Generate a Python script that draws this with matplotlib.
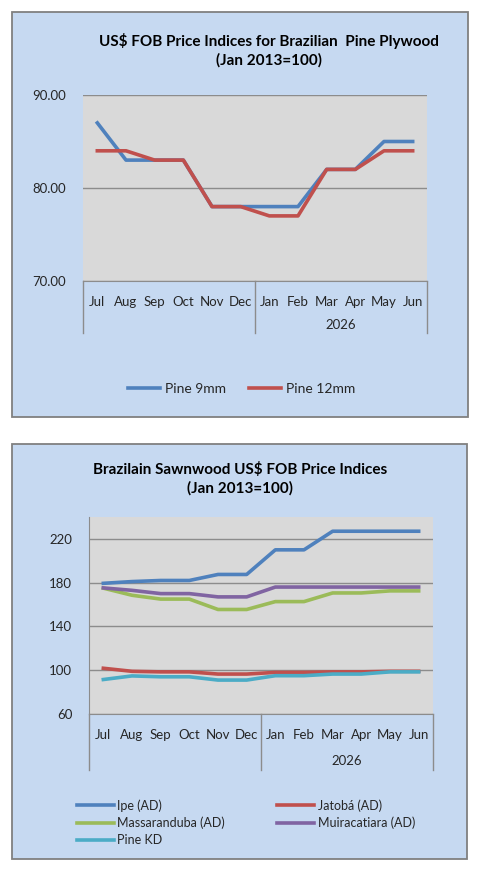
import matplotlib
matplotlib.use("Agg")
import matplotlib.pyplot as plt
from matplotlib.patches import Rectangle
import matplotlib.transforms as mtransforms

plt.rcParams['font.family'] = ['Lato', 'DejaVu Sans']

# ----------------------------------------------------------------------
# data
months = ["Jul", "Aug", "Sep", "Oct", "Nov", "Dec",
          "Jan", "Feb", "Mar", "Apr", "May", "Jun"]
year_label = "2026"

pine_9mm = [87, 83, 83, 83, 78, 78, 78, 78, 82, 82, 85, 85]
pine_12mm = [84, 84, 83, 83, 78, 78, 77, 77, 82, 82, 84, 84]

ipe = [179.4, 181, 182, 182, 187.5, 187.5, 210, 210, 227, 227, 227, 227]
jatoba = [101.8, 99, 98.5, 98.5, 96.5, 96.5, 98, 98, 98.5, 98.5, 99, 99]
massaranduba = [175, 168.5, 165, 165, 155.5, 155.5, 162.7, 162.7, 170.6, 170.6, 172.5, 172.5]
muiracatiara = [175.2, 173, 170, 170, 167, 167, 176, 176, 176, 176, 176, 176]
pine_kd = [91.5, 94.8, 94, 94, 91, 91, 95, 95, 96.5, 96.5, 98.5, 98.5]

top_yticks = [70, 80, 90]
bot_yticks = [60, 100, 140, 180, 220]

# ----------------------------------------------------------------------
W, H = 481, 872
BLUE = "#4F81BD"
RED = "#C0504D"
GREEN = "#9BBB59"
PURPLE = "#8064A2"
CYAN = "#4BACC6"
PANEL = "#C6D9F1"
PLOTBG = "#D9D9D9"
GRID = "#8C8C8C"
TXT = "#262626"
TICKFS = 9.5
LW = 2.6

fig = plt.figure(figsize=(W / 100, H / 100), dpi=100)


def box(x0, y0, x1, y1):
    return [x0 / W, 1 - y1 / H, (x1 - x0) / W, (y1 - y0) / H]


def fpt(x, y):
    # pixel position -> figure fraction
    return (x / W, 1 - y / H)


def panel(x0, y0, x1, y1):
    b = box(x0, y0, x1, y1)
    fig.patches.append(Rectangle((b[0], b[1]), b[2], b[3], transform=fig.transFigure,
                                 facecolor=PANEL, edgecolor="#808080", linewidth=1.3,
                                 zorder=-5))


def category_axis(ax, depth, year_pos):
    trans = mtransforms.blended_transform_factory(ax.transData, ax.transAxes)
    for xs in (-0.5, 5.5, 11.5):
        ax.plot([xs, xs], [0, -depth], color=GRID, lw=1, transform=trans, clip_on=False)
    ax.text(8.5, -year_pos, year_label, transform=trans, ha="center", va="center",
            fontsize=TICKFS, color=TXT)
    ax.set_xticks(range(len(months)))
    ax.set_xticklabels(months, fontsize=TICKFS, color=TXT)
    ax.set_xlim(-0.5, 11.5)


panel(12, 12, 468, 417)
panel(12, 444, 467, 859)

# ---------------- top chart
ax1 = fig.add_axes(box(83, 95, 427, 281))
ax1.set_facecolor(PLOTBG)
ax1.plot(range(12), pine_9mm, color=BLUE, lw=LW, label="Pine 9mm", solid_joinstyle="round")
ax1.plot(range(12), pine_12mm, color=RED, lw=LW, label="Pine 12mm", solid_joinstyle="round")
ax1.set_ylim(70, 90)
ax1.set_yticks(top_yticks)
ax1.set_yticklabels([f"{v:.2f}" for v in top_yticks], fontsize=TICKFS, color=TXT)
ax1.yaxis.grid(True, color=GRID, lw=1)
ax1.set_axisbelow(True)
for s in ("top", "right", "left"):
    ax1.spines[s].set_visible(False)
ax1.spines["bottom"].set_color(GRID)
ax1.tick_params(length=0)
ax1.tick_params(axis="y", pad=12)
ax1.tick_params(axis="x", pad=11)
category_axis(ax1, 52 / 186, 44 / 186)
fig.text(*fpt(269, 50), "US$ FOB Price Indices for Brazilian  Pine Plywood\n(Jan 2013=100)",
         ha="center", va="center", fontsize=11, fontweight="bold", linespacing=1.35)
ax1.legend(loc="center", bbox_to_anchor=fpt(242, 389), bbox_transform=fig.transFigure,
           ncol=2, frameon=False, fontsize=10, handlelength=2.3, handletextpad=0.36,
           columnspacing=1.65, labelcolor=TXT, borderpad=0, borderaxespad=0)

# ---------------- bottom chart
ax2 = fig.add_axes(box(89, 517, 433, 714))
ax2.set_facecolor(PLOTBG)
series = [(ipe, BLUE, "Ipe (AD)"), (jatoba, RED, "Jatobá (AD)"),
          (massaranduba, GREEN, "Massaranduba (AD)"),
          (muiracatiara, PURPLE, "Muiracatiara (AD)"), (pine_kd, CYAN, "Pine KD")]
handles = {}
for vals, col, lab in series:
    handles[lab], = ax2.plot(range(12), vals, color=col, lw=LW, label=lab,
                             solid_joinstyle="round")
ax2.set_ylim(60, 240)
ax2.set_yticks(bot_yticks)
ax2.set_yticklabels([str(v) for v in bot_yticks], fontsize=TICKFS, color=TXT)
ax2.yaxis.grid(True, color=GRID, lw=1)
ax2.set_axisbelow(True)
for s in ("top", "right"):
    ax2.spines[s].set_visible(False)
ax2.spines["bottom"].set_color(GRID)
ax2.spines["left"].set_color(GRID)
ax2.tick_params(length=0)
ax2.tick_params(axis="y", pad=12)
ax2.tick_params(axis="x", pad=11)
category_axis(ax2, 56 / 197, 47 / 197)
fig.text(*fpt(240, 479), "Brazilain Sawnwood US$ FOB Price Indices\n(Jan 2013=100)",
         ha="center", va="center", fontsize=11, fontweight="bold", linespacing=1.35)
order = ["Ipe (AD)", "Massaranduba (AD)", "Pine KD", "Jatobá (AD)", "Muiracatiara (AD)"]
ax2.legend([handles[k] for k in order], order, loc="upper left",
           bbox_to_anchor=fpt(77, 799), bbox_transform=fig.transFigure,
           ncol=2, frameon=False, fontsize=9, handlelength=2.96, handletextpad=0.25,
           columnspacing=4.2, labelspacing=0.4, labelcolor=TXT, borderpad=0,
           borderaxespad=0)

fig.savefig("out.png", dpi=100)
